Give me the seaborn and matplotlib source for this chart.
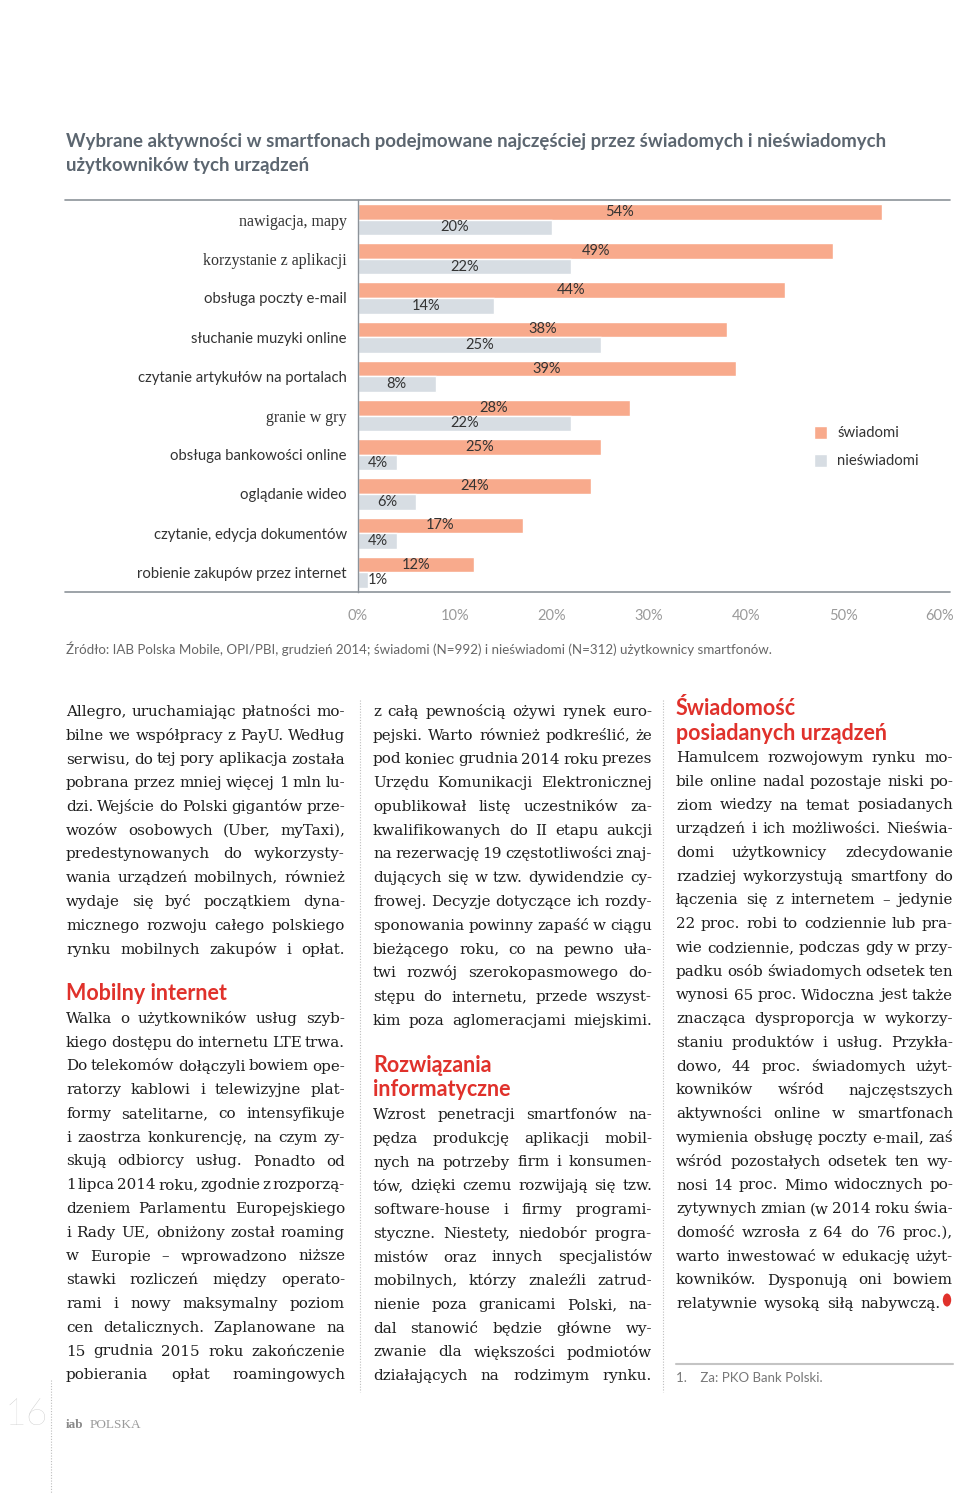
import matplotlib
matplotlib.use("Agg")
import matplotlib.pyplot as plt
from matplotlib.lines import Line2D
from matplotlib.patches import Circle
import pandas as pd
import seaborn as sns

# ---------------- DATA ----------------
kategorie = ["nawigacja, mapy", "korzystanie z aplikacji", "obsługa poczty e-mail",
             "słuchanie muzyki online", "czytanie artykułów na portalach", "granie w gry",
             "obsługa bankowości online", "oglądanie wideo", "czytanie, edycja dokumentów",
             "robienie zakupów przez internet"]
swiadomi = [54, 49, 44, 38, 39, 28, 25, 24, 17, 12]
nieswiadomi = [20, 22, 14, 25, 8, 22, 4, 6, 4, 1]
grupy = ["świadomi", "nieświadomi"]
x_ticks = [0, 10, 20, 30, 40, 50, 60]
serif_labels = ["nawigacja, mapy", "korzystanie z aplikacji", "granie w gry"]

tytul = ["Wybrane aktywności w smartfonach podejmowane najczęściej przez świadomych i nieświadomych",
         "użytkowników tych urządzeń"]
zrodlo = ("Źródło: IAB Polska Mobile, OPI/PBI, grudzień 2014; świadomi (N=992) i nieświadomi (N=312) "
          "użytkownicy smartfonów.")

kol1_a = ["Allegro, uruchamiając płatności mo-",
          "bilne we współpracy z PayU. Według",
          "serwisu, do tej pory aplikacja została",
          "pobrana przez mniej więcej 1 mln lu-",
          "dzi. Wejście do Polski gigantów prze-",
          "wozów osobowych (Uber, myTaxi),",
          "predestynowanych do wykorzysty-",
          "wania urządzeń mobilnych, również",
          "wydaje się być początkiem dyna-",
          "micznego rozwoju całego polskiego",
          "rynku mobilnych zakupów i opłat."]
kol1_b = ["Walka o użytkowników usług szyb-",
          "kiego dostępu do internetu LTE trwa.",
          "Do telekomów dołączyli bowiem ope-",
          "ratorzy kablowi i telewizyjne plat-",
          "formy satelitarne, co intensyfikuje",
          "i zaostrza konkurencję, na czym zy-",
          "skują odbiorcy usług. Ponadto od",
          "1 lipca 2014 roku, zgodnie z rozporzą-",
          "dzeniem Parlamentu Europejskiego",
          "i Rady UE, obniżony został roaming",
          "w Europie – wprowadzono niższe",
          "stawki rozliczeń między operato-",
          "rami i nowy maksymalny poziom",
          "cen detalicznych. Zaplanowane na",
          "15 grudnia 2015 roku zakończenie",
          "pobierania opłat roamingowych"]
kol2_a = ["z całą pewnością ożywi rynek euro-",
          "pejski. Warto również podkreślić, że",
          "pod koniec grudnia 2014 roku prezes",
          "Urzędu Komunikacji Elektronicznej",
          "opublikował listę uczestników za-",
          "kwalifikowanych do II etapu aukcji",
          "na rezerwację 19 częstotliwości znaj-",
          "dujących się w tzw. dywidendzie cy-",
          "frowej. Decyzje dotyczące ich rozdy-",
          "sponowania powinny zapaść w ciągu",
          "bieżącego roku, co na pewno uła-",
          "twi rozwój szerokopasmowego do-",
          "stępu do internetu, przede wszyst-",
          "kim poza aglomeracjami miejskimi."]
kol2_b = ["Wzrost penetracji smartfonów na-",
          "pędza produkcję aplikacji mobil-",
          "nych na potrzeby firm i konsumen-",
          "tów, dzięki czemu rozwijają się tzw.",
          "software-house i firmy programi-",
          "styczne. Niestety, niedobór progra-",
          "mistów oraz innych specjalistów",
          "mobilnych, którzy znaleźli zatrud-",
          "nienie poza granicami Polski, na-",
          "dal stanowić będzie główne wy-",
          "zwanie dla większości podmiotów",
          "działających na rodzimym rynku."]
kol3 = ["Hamulcem rozwojowym rynku mo-",
        "bile online nadal pozostaje niski po-",
        "ziom wiedzy na temat posiadanych",
        "urządzeń i ich możliwości. Nieświa-",
        "domi użytkownicy zdecydowanie",
        "rzadziej wykorzystują smartfony do",
        "łączenia się z internetem – jedynie",
        "22 proc. robi to codziennie lub pra-",
        "wie codziennie, podczas gdy w przy-",
        "padku osób świadomych odsetek ten",
        "wynosi 65 proc. Widoczna jest także",
        "znacząca dysproporcja w wykorzy-",
        "staniu produktów i usług. Przykła-",
        "dowo, 44 proc. świadomych użyt-",
        "kowników wśród najczęstszych",
        "aktywności online w smartfonach",
        "wymienia obsługę poczty e-mail, zaś",
        "wśród pozostałych odsetek ten wy-",
        "nosi 14 proc. Mimo widocznych po-",
        "zytywnych zmian (w 2014 roku świa-",
        "domość wzrosła z 64 do 76 proc.),",
        "warto inwestować w edukację użyt-",
        "kowników. Dysponują oni bowiem",
        "relatywnie wysoką siłą nabywczą."]

# ---------------- STYLE ----------------
ORANGE = "#F8AA8C"
GRAY = "#D7DDE3"
RED = "#E0312B"
AXIS = "#8C939A"
SANS = "Lato"
SERIF = "DejaVu Serif"

W, H = 960, 1493
sns.set_style("white")
plt.rcParams["font.family"] = [SANS, "DejaVu Sans"]

fig = plt.figure(figsize=(W / 100, H / 100), dpi=100)
fig.patch.set_facecolor("white")


def fx(x):
    return x / W


def fy(y):
    return 1 - y / H


# ---------------- CHART ----------------
ax = fig.add_axes([fx(358), fy(592), (940 - 358) / W, (592 - 200) / H])

df = pd.DataFrame({
    "aktywnosc": kategorie + kategorie,
    "grupa": [grupy[0]] * len(kategorie) + [grupy[1]] * len(kategorie),
    "procent": swiadomi + nieswiadomi,
})
sns.barplot(data=df, x="procent", y="aktywnosc", hue="grupa", orient="h",
            palette=[ORANGE, GRAY], saturation=1, width=0.8, ax=ax)

for cont in ax.containers:
    for bar in cont:
        v = bar.get_width()
        ax.text(max(v / 2, 2.0), bar.get_y() + bar.get_height() / 2, f"{v:.0f}%",
                ha="center", va="center", fontsize=10.5, color="#333333")

ax.set_xlim(0, 60)
ax.set_xticks(x_ticks)
ax.set_xticklabels([f"{t}%" for t in x_ticks], fontsize=10.5, color="#9A9A9A")
ax.set_xlabel("")
ax.set_ylabel("")
ax.tick_params(axis="x", direction="out", length=6, width=1, color=AXIS, pad=6)
ax.tick_params(axis="y", which="major", length=0, pad=8)
ax.set_yticks(range(len(kategorie)), minor=False)
ax.set_yticks([i + 0.5 for i in range(len(kategorie) - 1)], minor=True)
ax.tick_params(axis="y", which="minor", length=4, width=1, color=AXIS)
for lab in ax.get_yticklabels():
    if lab.get_text() in serif_labels:
        lab.set_fontfamily("Liberation Serif")
        lab.set_fontsize(11.5)
    else:
        lab.set_fontsize(10.7)
    lab.set_color("#333333")

for s in ["top", "right", "bottom"]:
    ax.spines[s].set_visible(False)
ax.spines["left"].set_color(AXIS)
ax.spines["left"].set_linewidth(1)
ax.grid(False)

handles, labels = ax.get_legend_handles_labels()
ax.legend(handles, labels, loc="center left", bbox_to_anchor=(0.76, 0.37), frameon=False,
          handlelength=0.9, handleheight=1.0, handletextpad=0.7, labelspacing=0.9,
          fontsize=10.7, labelcolor="#333333")

# horizontal rules framing the chart
for yy in (200, 592):
    fig.add_artist(Line2D([fx(65), fx(950)], [fy(yy), fy(yy)], transform=fig.transFigure,
                          color=AXIS, lw=1.2))

for i, s in enumerate(tytul):
    fig.text(fx(66), fy(141 + i * 24), s, fontsize=13.4, fontweight="bold", color="#5C6670",
             va="center")
fig.text(fx(66), fy(649), zrodlo, fontsize=9.6, color="#666666", va="center")

# ---------------- BODY TEXT ----------------
renderer = fig.canvas.get_renderer()
STEP = 23.75
COLW = 279
MIN_GAP = 2.2


def word_widths(line, size):
    out = []
    for w in line.split(" "):
        t = fig.text(0, 0, w, fontsize=size, family=SERIF)
        out.append(t.get_window_extent(renderer).width)
        t.remove()
    return out


# largest body size for which every line fits with at least MIN_GAP between words
all_lines = kol1_a + kol1_b + kol2_a + kol2_b + kol3
scales = []
for l in all_lines:
    ws = word_widths(l, 12)
    scales.append((COLW - MIN_GAP * (len(ws) - 1)) / sum(ws))
BODY_SIZE = min(13.6, 12 * min(scales))


def justified(lines, x0, x1, y0, size=BODY_SIZE, last_x1=None):
    for i, line in enumerate(lines):
        base = y0 + i * STEP + 5
        right = last_x1 if (last_x1 and i == len(lines) - 1) else x1
        words = line.split(" ")
        texts = [fig.text(0, fy(base), w, fontsize=size, family=SERIF, color="#1E1E1E",
                          va="baseline", ha="left") for w in words]
        widths = [t.get_window_extent(renderer).width for t in texts]
        gap = (right - x0 - sum(widths)) / max(len(words) - 1, 1)
        x = x0
        for t, w in zip(texts, widths):
            t.set_x(fx(x))
            x += w + gap


def heading(lines, x, y0, size=15.5):
    for i, s in enumerate(lines):
        fig.text(fx(x), fy(y0 + i * 24), s, fontsize=size, fontweight="bold", color=RED,
                 va="center", ha="left")


justified(kol1_a, 66, 345, 711)
heading(["Mobilny internet"], 66, 994)
justified(kol1_b, 66, 345, 1018)

justified(kol2_a, 373, 652, 711)
heading(["Rozwiązania", "informatyczne"], 373, 1065)
justified(kol2_b, 373, 652, 1114)

heading(["Świadomość", "posiadanych urządzeń"], 676, 709)
justified(kol3, 676, 953, 757, last_x1=941)
fig.add_artist(Circle((fx(947), fy(1300)), 4.2 / W, transform=fig.transFigure,
                      color=RED, lw=0))

# footnote
fig.add_artist(Line2D([fx(676), fx(953)], [fy(1364), fy(1364)], transform=fig.transFigure,
                      color="#C4C4C4", lw=1.5))
fig.text(fx(676), fy(1378), "1.    Za: PKO Bank Polski.", fontsize=9.5, color="#777777",
         va="center")

# column separators and page margin
for xx, y_a, y_b in ((360, 700, 1392), (663, 700, 1392), (51, 1380, 1493)):
    fig.add_artist(Line2D([fx(xx), fx(xx)], [fy(y_a), fy(y_b)], transform=fig.transFigure,
                          color="#BDBDBD", lw=0.8, linestyle=(0, (1, 1.5))))

# page number and logo
fig.text(fx(4), fy(1415), "16", fontsize=27, color="#C6C6C6", fontweight="light",
         va="center", ha="left")
fig.text(fx(66), fy(1425), "iab", fontsize=9.5, family="Liberation Serif", fontweight="bold",
         color="#8A8A8A", va="center")
fig.text(fx(90), fy(1425), "POLSKA", fontsize=9.5, family="Liberation Serif", color="#9A9A9A",
         va="center")

fig.savefig("out.png", dpi=100, facecolor="white")
